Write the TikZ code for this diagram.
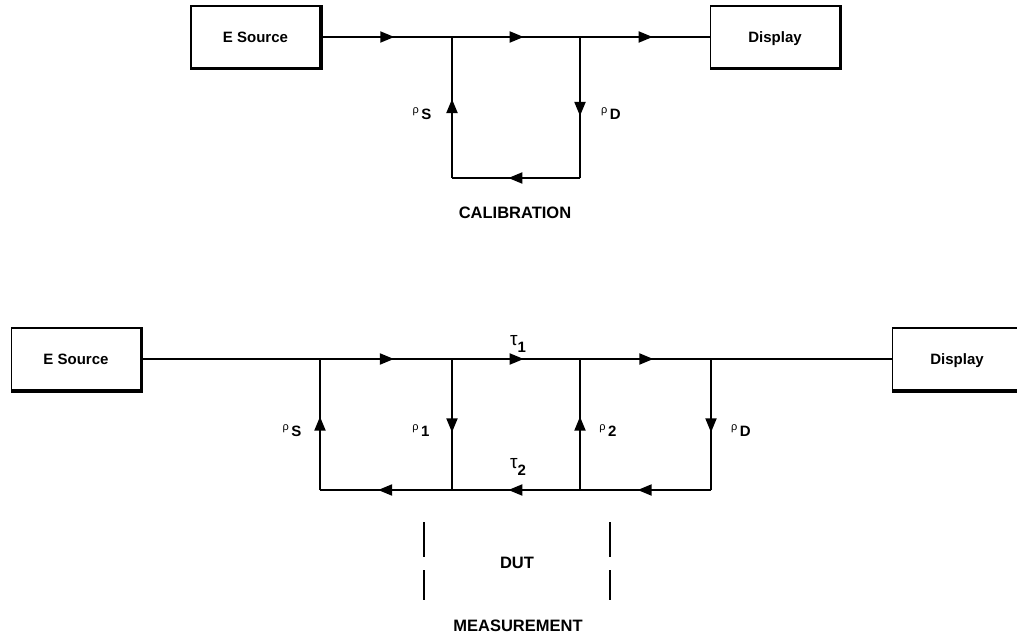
\documentclass[tikz,border=0pt]{standalone}
\usepackage{fontspec}
\setmainfont{Liberation Sans}
\usetikzlibrary{arrows.meta,decorations.markings}
\tikzset{
  wire/.style={line width=1.9pt},
  flow/.style={wire,postaction={decorate},decoration={markings,mark=at position 0.56 with {\arrow{Triangle[length=14pt,width=11pt]}}}},
  instbox/.style={draw,line width=1.6pt,minimum width=129pt,minimum height=62pt,inner sep=0pt,text height=11pt,text depth=0pt,font=\fontsize{15}{15}\selectfont\bfseries},
  shadowedge/.style={line width=3.4pt},
  plab/.style={font=\fontsize{15}{15}\selectfont\bfseries,inner sep=0pt},
  caption/.style={font=\fontsize{16.5}{16.5}\selectfont\bfseries,inner sep=0pt},
  dutmark/.style={line width=1.3pt}
}
\newcommand{\rholab}[1]{\raisebox{6pt}{\fontsize{11}{11}\selectfont\mdseries ρ}\,#1}
\newcommand{\taulab}[1]{{\fontsize{19}{19}\selectfont\mdseries τ}\raisebox{-7pt}{#1}}
\begin{document}
\begin{tikzpicture}[x=1pt,y=-1pt]
\useasboundingbox (0,0) rectangle (1017,636);
% calibration
\node[instbox] (src1) at (255.5,37) {E Source};
\node[instbox] (dsp1) at (775,37) {Display};
\draw[shadowedge] (src1.north east) -- (src1.south east) -- (src1.south west);
\draw[shadowedge] (dsp1.north east) -- (dsp1.south east) -- (dsp1.south west);
\coordinate (a1) at (452,37);
\coordinate (b1) at (580,37);
\coordinate (a1l) at (452,178);
\coordinate (b1l) at (580,178);
\draw[flow] (src1) -- (a1);
\draw[flow] (a1) -- (b1);
\draw[flow] (b1) -- (dsp1);
\draw[flow] (b1) -- (b1l);
\draw[flow] (b1l) -- (a1l);
\draw[flow] (a1l) -- (a1);
\node[plab] (rs1) at (422,114) {\rholab{S}};
\node[plab] (rd1) at (611,114) {\rholab{D}};
\node[caption] (cal) at (515,213) {CALIBRATION};
% measurement
\node[instbox] (src2) at (76,359) {E Source};
\node[instbox] (dsp2) at (957,359) {Display};
\draw[shadowedge] (src2.north east) -- (src2.south east) -- (src2.south west);
\draw[shadowedge] (dsp2.north east) -- (dsp2.south east) -- (dsp2.south west);
\foreach \n/\x in {1/320,2/452,3/580,4/711} {
  \coordinate (j\n) at (\x,359);
  \coordinate (l\n) at (\x,490);
}
\draw[wire] (src2) -- (j1);
\draw[flow] (j1) -- (j2);
\draw[flow] (j2) -- (j3);
\draw[flow] (j3) -- (j4);
\draw[wire] (j4) -- (dsp2);
\draw[flow] (l1) -- (j1);
\draw[flow] (j2) -- (l2);
\draw[flow] (l3) -- (j3);
\draw[flow] (j4) -- (l4);
\draw[flow] (l4) -- (l3);
\draw[flow] (l3) -- (l2);
\draw[flow] (l2) -- (l1);
\node[plab] (rs2) at (292,431) {\rholab{S}};
\node[plab] (r1) at (421,431) {\rholab{1}};
\node[plab] (r2) at (608,431) {\rholab{2}};
\node[plab] (rd2) at (741,431) {\rholab{D}};
\node[plab] (t1) at (518,344) {\taulab{1}};
\node[plab] (t2) at (518,467) {\taulab{2}};
\foreach \x in {424,610} {
  \draw[dutmark] (\x,522) -- (\x,557) (\x,570) -- (\x,600);
}
\node[caption] (dut) at (517,563) {DUT};
\node[caption] (meas) at (518,626) {MEASUREMENT};
\end{tikzpicture}
\end{document}
